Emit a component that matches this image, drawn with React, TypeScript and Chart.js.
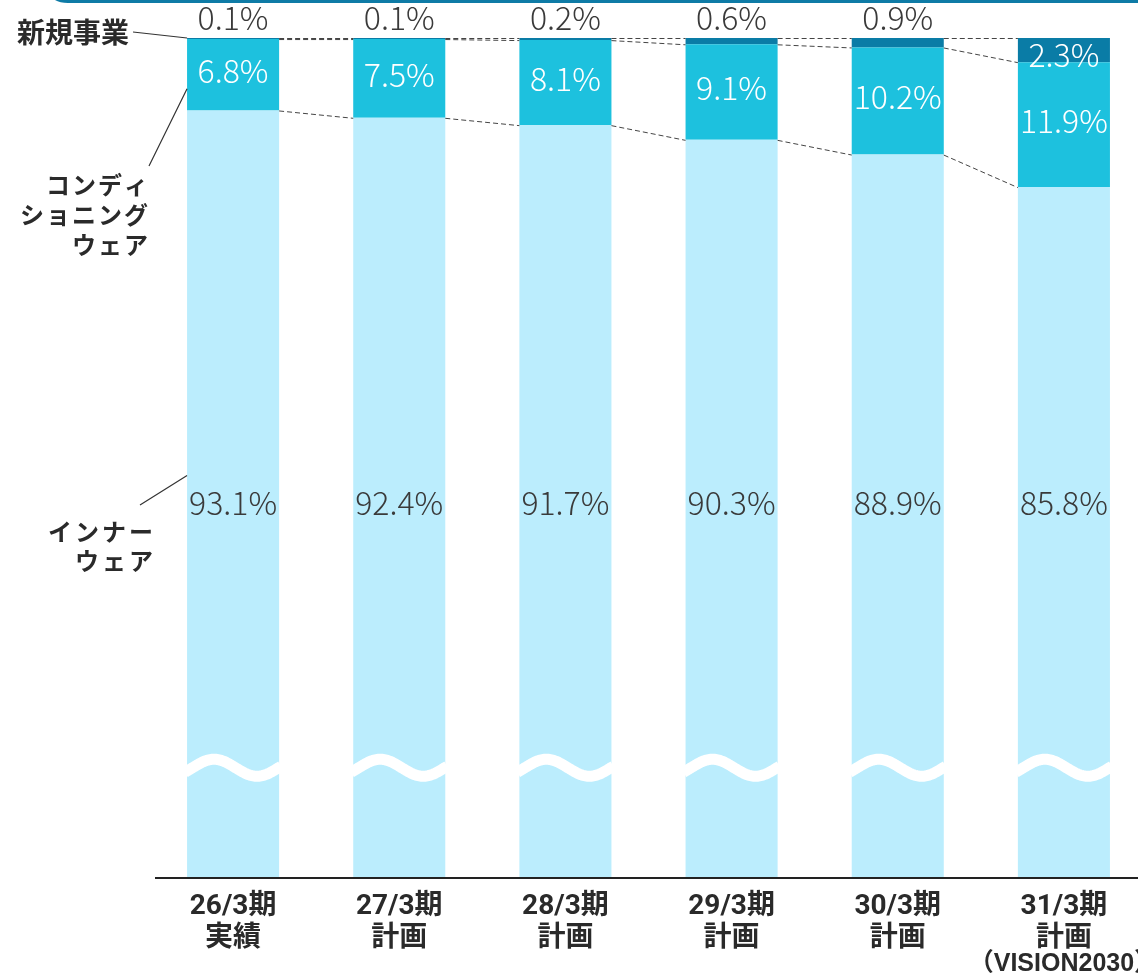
import React, { useEffect, useRef } from "react";
import { Chart, registerables } from "chart.js";

Chart.register(...registerables);

const categories: string[][] = [
  ["26/3期", "実績"],
  ["27/3期", "計画"],
  ["28/3期", "計画"],
  ["29/3期", "計画"],
  ["30/3期", "計画"],
  ["31/3期", "計画"],
];
const categoryNotes = ["", "", "", "", "", "（VISION2030）"];
const innerWear = [93.1, 92.4, 91.7, 90.3, 88.9, 85.8];
const conditioning = [6.8, 7.5, 8.1, 9.1, 10.2, 11.9];
const newBusiness = [0.1, 0.1, 0.2, 0.6, 0.9, 2.3];
const seriesNames = ["インナーウェア", "コンディショニングウェア", "新規事業"];
const yMin = 20;
const yMax = 100;
const breakValue = 30.5;
const innerLabelValue = 55.7;

const FONT = '"Noto Sans CJK JP", "Noto Sans", sans-serif';
const TICK_FONT = 'Roboto, "Noto Sans CJK JP", sans-serif';
const DARK = "#3a3a3a";
const CANVAS_W = 1147;
const VIEW_W = 1138;

const fmt = (v: number) => v.toFixed(1) + "%";

const decorPlugin = {
  id: "decor",
  afterDatasetsDraw(chart: any) {
    const ctx: CanvasRenderingContext2D = chart.ctx;
    const area = chart.chartArea;
    const yScale = chart.scales.y;
    const metas = [0, 1, 2].map((i) => chart.getDatasetMeta(i));
    const values = [innerWear, conditioning, newBusiness];
    ctx.save();

    // wave break
    const waveY = yScale.getPixelForValue(breakValue);
    metas[0].data.forEach((bar: any) => {
      const left = bar.x - bar.width / 2;
      const w = bar.width;
      ctx.beginPath();
      for (let px = left - 2; px <= left + w + 2; px += 1) {
        const yy = waveY - 8.5 * Math.sin((2 * Math.PI * (px - left)) / 86 - 0.4);
        if (px === left - 2) ctx.moveTo(px, yy);
        else ctx.lineTo(px, yy);
      }
      ctx.strokeStyle = "#ffffff";
      ctx.lineWidth = 11;
      ctx.stroke();
    });

    // dashed connectors
    ctx.setLineDash([5, 3]);
    ctx.strokeStyle = "#444";
    ctx.lineWidth = 1;
    metas.forEach((meta: any) => {
      for (let i = 0; i < meta.data.length - 1; i++) {
        const a = meta.data[i];
        const b = meta.data[i + 1];
        ctx.beginPath();
        ctx.moveTo(a.x + a.width / 2, a.y + 0.5);
        ctx.lineTo(b.x - b.width / 2, b.y + 0.5);
        ctx.stroke();
      }
    });
    ctx.setLineDash([]);

    // value labels
    ctx.textAlign = "center";
    ctx.textBaseline = "middle";
    ctx.font = `300 32px ${FONT}`;
    const innerY = yScale.getPixelForValue(innerLabelValue);
    metas[0].data.forEach((bar: any, i: number) => {
      ctx.fillStyle = DARK;
      ctx.fillText(fmt(values[0][i]), bar.x, innerY);
    });
    metas[1].data.forEach((bar: any, i: number) => {
      ctx.fillStyle = "#ffffff";
      ctx.fillText(fmt(values[1][i]), bar.x, (bar.y + bar.base) / 2 - 4);
    });
    metas[2].data.forEach((bar: any, i: number) => {
      const v = values[2][i];
      if (v >= 1) {
        ctx.fillStyle = "#ffffff";
        ctx.fillText(fmt(v), bar.x, (bar.y + bar.base) / 2 + 5);
      } else {
        ctx.fillStyle = DARK;
        ctx.fillText(fmt(v), bar.x, bar.y - 20);
      }
    });

    // axis line
    ctx.beginPath();
    ctx.strokeStyle = "#222";
    ctx.lineWidth = 2;
    ctx.moveTo(155, area.bottom);
    ctx.lineTo(chart.width, area.bottom);
    ctx.stroke();

    // category notes (third line)
    const xScale = chart.scales.x;
    ctx.fillStyle = "#2a2a2a";
    ctx.font = `bold 25px "Liberation Sans", "Noto Sans CJK JP", sans-serif`;
    categoryNotes.forEach((note, i) => {
      if (note) ctx.fillText(note, xScale.getPixelForValue(i), 964);
    });

    // top banner edge
    ctx.beginPath();
    ctx.strokeStyle = "#0e7ba6";
    ctx.lineWidth = 3;
    ctx.moveTo(50, -8);
    ctx.quadraticCurveTo(54, 1.5, 68, 1.5);
    ctx.lineTo(chart.width, 1.5);
    ctx.stroke();

    // series name annotations
    const b0 = metas[0].data[0];
    const b1 = metas[1].data[0];
    const b2 = metas[2].data[0];
    const barLeft = b0.x - b0.width / 2;
    ctx.strokeStyle = "#333";
    ctx.lineWidth = 1.2;
    ctx.beginPath();
    ctx.moveTo(133, 32);
    ctx.lineTo(barLeft, b2.y);
    ctx.moveTo(149, 166);
    ctx.lineTo(barLeft, (b1.y + b1.base) / 2 + 14);
    ctx.moveTo(140, 505);
    ctx.lineTo(barLeft, b0.y + 365);
    ctx.stroke();

    ctx.fillStyle = "#2a2a2a";
    ctx.textAlign = "left";
    ctx.font = `bold 28px ${FONT}`;
    ctx.fillText("新規事業", 17, 32);

    ctx.textAlign = "right";
    ctx.font = `bold 24px ${FONT}`;
    (ctx as any).letterSpacing = "2px";
    ctx.fillText("コンディ", 150, 185);
    ctx.fillText("ショニング", 150, 215);
    ctx.fillText("ウェア", 150, 245);
    (ctx as any).letterSpacing = "3px";
    ctx.fillText("インナー", 156, 532);
    ctx.fillText("ウェア", 156, 561);
    (ctx as any).letterSpacing = "0px";

    ctx.restore();
  },
};

export default function App() {
  const ref = useRef<HTMLCanvasElement | null>(null);

  useEffect(() => {
    if (!ref.current) return;
    const common = {
      barPercentage: 0.554,
      categoryPercentage: 1,
      borderWidth: 0,
      clip: 0,
    };
    const chart = new Chart(ref.current, {
      type: "bar",
      data: {
        labels: categories as any,
        datasets: [
          { label: seriesNames[0], data: innerWear, backgroundColor: "#BBEDFD", ...common },
          { label: seriesNames[1], data: conditioning, backgroundColor: "#1DC1DE", ...common },
          { label: seriesNames[2], data: newBusiness, backgroundColor: "#0A7CA6", ...common },
        ],
      },
      options: {
        animation: false,
        responsive: false,
        devicePixelRatio: 1,
        layout: { padding: { top: 38, left: 150, right: 0, bottom: 0 } },
        plugins: { legend: { display: false }, tooltip: { enabled: false } },
        scales: {
          x: {
            stacked: true,
            grid: { display: false, drawTicks: false },
            border: { display: false },
            ticks: {
              autoSkip: false,
              maxRotation: 0,
              padding: 13,
              color: "#2a2a2a",
              font: { family: TICK_FONT, size: 28, weight: "bold", lineHeight: 1.14 },
            },
            afterFit: (s: any) => {
              s.height = 96;
              s.paddingLeft = 0;
              s.paddingRight = 0;
            },
          },
          y: { stacked: true, display: false, min: yMin, max: yMax },
        },
      } as any,
      plugins: [decorPlugin],
    });
    return () => chart.destroy();
  }, []);

  return (
    <div
      style={{
        position: "fixed",
        left: 0,
        top: 0,
        width: VIEW_W,
        height: 974,
        overflow: "hidden",
        background: "#fff",
      }}
    >
      <canvas
        ref={ref}
        width={CANVAS_W}
        height={974}
        style={{ width: CANVAS_W, height: 974, display: "block" }}
      />
    </div>
  );
}
